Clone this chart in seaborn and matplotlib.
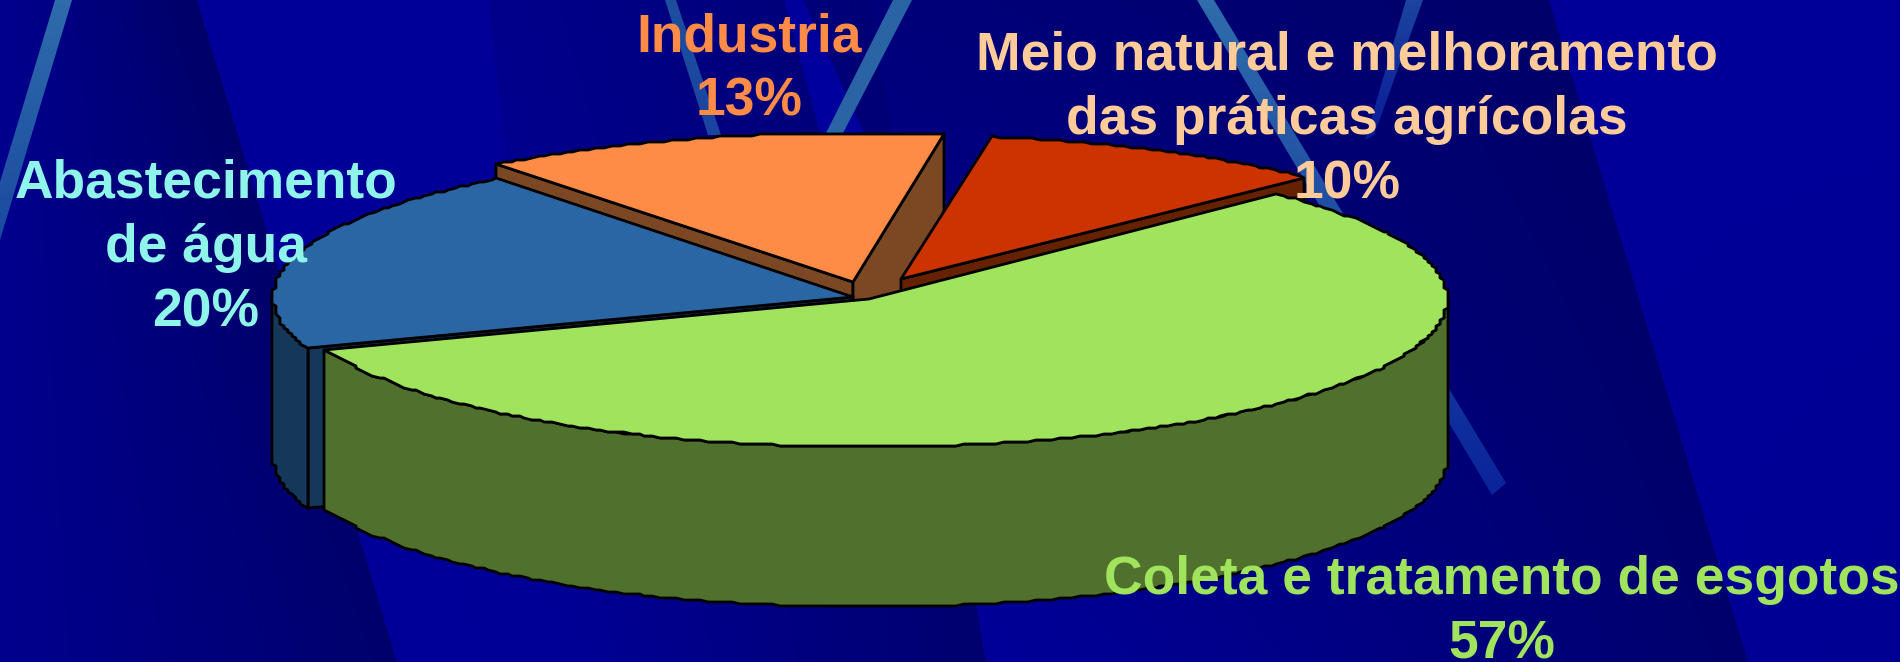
import numpy as np
import matplotlib
matplotlib.use("Agg")
import matplotlib.pyplot as plt
from matplotlib.patches import Polygon
import seaborn as sns

# ---- data ----
labels = ["Coleta e tratamento de esgotos", "Abastecimento\nde água", "Industria",
          "Meio natural e melhoramento\ndas práticas agrícolas"]
shares = [57, 20, 13, 10]
top_colors = ["#a0e35c", "#2a66a3", "#ff8c46", "#cc3300"]
side_colors = ["#50702e", "#15385a", "#7c4824", "#662200"]
text_colors = ["#a0e35c", "#8ff5ea", "#ff8c46", "#ffcc99"]

# ---- layout (pixels) ----
apex = {0: (869, 299), 1: (853, 297), 2: (853, 282), 3: (901, 279)}
rx = {0: 578, 1: 580, 2: 580, 3: 570}
ry = {0: 148, 1: 150, 2: 149, 3: 144}
DEPTH = 160
START = 45.0
label_pos = {0: (1502, 594), 1: (206, 197.5), 2: (749, 51.5), 3: (1347, 69.6)}

sns.set_theme(style="white", rc={"axes.edgecolor": "none"})
plt.rcParams["font.family"] = ["Liberation Sans", "DejaVu Sans"]

fig = plt.figure(figsize=(19, 6.62), dpi=100)
ax = fig.add_axes([0, 0, 1, 1])
ax.set_xlim(0, 1900)
ax.set_ylim(662, 0)
ax.axis("off")
NAVY = "#000080"
fig.patch.set_facecolor(NAVY)

# ---- backdrop: slanted panels with horizontal shading (blue channel values) ----
H, W = 662, 1900
Y, X = np.mgrid[0:H, 0:W] + 0.5
blue = np.full((H, W), 128.0)
panels = [
    ((0, 0, 197, 397), (142, 104, 142, 108)),
    ((197, 397, 488, 566), (154, 154, 154, 150)),
    ((488, 566, 869, 986), (140, 118, 150, 110)),
    ((869, 986, 1549, 1748), (122, 106, 154, 108)),
    ((1549, 1748, 1900, 1900), (154, 154, 150, 146)),
]
for (lt, lb, rt, rb), (a, b, c, d) in panels:
    v = Y / H
    xl = lt + (lb - lt) * v
    xr = rt + (rb - rt) * v
    u = (X - xl) / (xr - xl)
    m = (u >= 0) & (u <= 1)
    blue[m] = ((a * (1 - u) + b * u) * (1 - v) + (c * (1 - u) + d * u) * v)[m]
img = np.zeros((H, W, 3))
img[..., 2] = blue / 255
ax.imshow(img, extent=[0, W, H, 0], aspect="auto", zorder=0, interpolation="nearest")


def grad_poly(pts, c0, c1, z=1):
    ys = [p[1] for p in pts]
    xs = [p[0] for p in pts]
    g = np.linspace(0, 1, 64)[:, None, None]
    a = np.array(matplotlib.colors.to_rgb(c0))[None, None, :]
    b = np.array(matplotlib.colors.to_rgb(c1))[None, None, :]
    im = ax.imshow(a * (1 - g) + b * g, extent=[min(xs), max(xs), max(ys), min(ys)],
                   aspect="auto", zorder=z)
    clip = Polygon(pts, transform=ax.transData, fc="none", ec="none")
    ax.add_patch(clip)
    im.set_clip_path(clip)


grad_poly([(784, 0), (803, 0), (864, 133), (820, 133)], "#00009c", "#0000a0")
grad_poly([(55, 0), (72, 0), (0, 240), (0, 182)], "#2f6cab", "#1a4aa0")
grad_poly([(665, 0), (676, 0), (721, 135), (708, 135)], "#1e4f9e", "#1a44a0")
grad_poly([(893, 0), (912, 0), (842, 135), (825, 135)], "#2a64a4", "#2a64a4")
grad_poly([(1197, 0), (1214, 0), (1506, 483), (1492, 495)], "#2f6cab", "#0a249a")
grad_poly([(1406, 0), (1423, 0), (1374, 135), (1365, 140)], "#1c44a0", "#0a1a98")

EDGE = dict(edgecolor="black", linewidth=2.0, joinstyle="round")


def ell(i, deg, dy=0.0):
    """Points on the slice's ellipse, lightly snapped for the stepped rim of the original."""
    cx, cy = apex[i]
    t = np.deg2rad(np.asarray(deg, dtype=float))
    x = cx + rx[i] * np.cos(t)
    y = cy - ry[i] * np.sin(t)
    return np.column_stack([np.round(x / 4) * 4, np.round(y / 2) * 2 + dy])


def arc_angles(a, b):
    return np.linspace(a, b, max(2, int(abs(a - b) / 0.8)))


def rim(i, a, b, z):
    f = arc_angles(a, b)
    pts = np.vstack([ell(i, f), ell(i, f[::-1], DEPTH)])
    ax.add_patch(Polygon(pts, facecolor=side_colors[i], zorder=z, **EDGE))


def draw(i, a_start, a_end, z):
    """Slice i sweeps clockwise from a_start down to a_end (degrees)."""
    cx, cy = apex[i]
    # cut faces whose outward normal points towards the viewer
    for a, normal in ((a_start, a_start + 90), (a_end, a_end - 90)):
        if np.sin(np.deg2rad(normal)) < 0:
            p = ell(i, [a])[0]
            face = [(cx, cy), p, (p[0], p[1] + DEPTH), (cx, cy + DEPTH)]
            ax.add_patch(Polygon(face, facecolor=side_colors[i], zorder=z, **EDGE))
    top = np.vstack([[(cx, cy)], ell(i, arc_angles(a_start, a_end))])
    ax.add_patch(Polygon(top, facecolor=top_colors[i], zorder=z + .2, **EDGE))


# slice angles follow from the shares, running clockwise from START
sweep = np.array(shares) / sum(shares) * 360.0
ends = START - np.cumsum(sweep)
starts = np.r_[START, ends[:-1]]

for n, i in enumerate([2, 3, 1, 0]):
    draw(i, starts[i], ends[i], 5 + n)
rim(0, 0.0, ends[0], 8.1)             # front rim of the largest slice
rim(1, -180.0, starts[1], 7.1)        # short visible rim of the blue slice

# labels
FS = 38.4
LINE = 64.3
for i, lab in enumerate(labels):
    x, y = label_pos[i]
    lines = lab.split("\n") + [f"{shares[i]}%"]
    for k, s in enumerate(lines):
        ax.text(x, y + k * LINE, s, color=text_colors[i], fontsize=FS, fontweight="bold",
                ha="center", va="baseline", zorder=20, clip_on=False)

ax.set_xlim(0, 1900)
ax.set_ylim(662, 0)
fig.savefig("out.png", dpi=100, facecolor=NAVY)
